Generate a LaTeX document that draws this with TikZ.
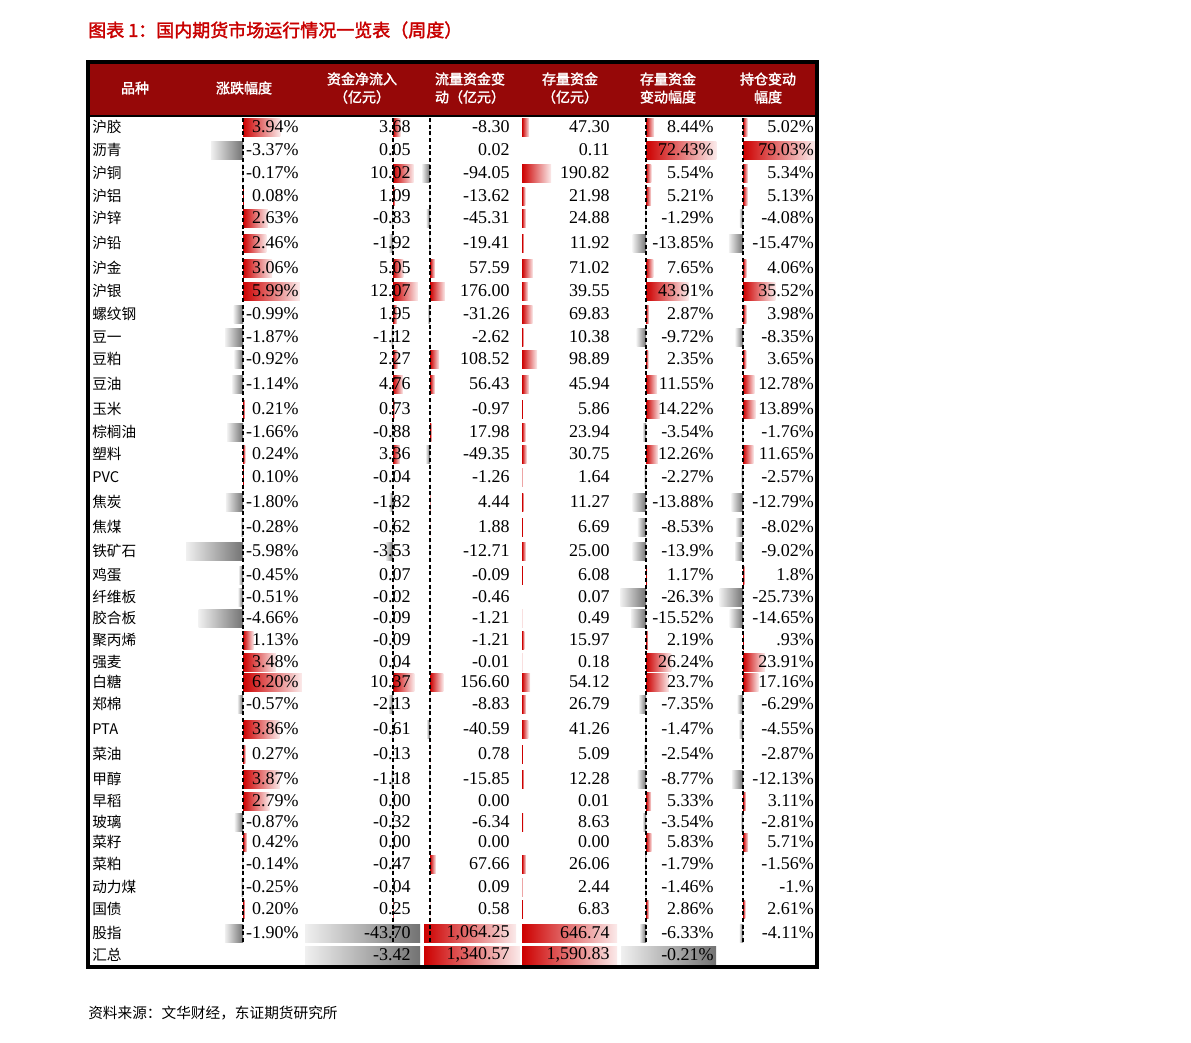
\documentclass[tikz,border=0pt]{standalone}
\usepackage{fontspec}
\setmainfont{Liberation Serif}
\newfontfamily\cjk{Noto Sans CJK SC}
\newfontfamily\cjkb[FakeBold=2]{Noto Sans CJK SC}
\definecolor{hdr}{RGB}{150,8,8}
\definecolor{bred}{RGB}{205,0,0}
\definecolor{ttl}{RGB}{200,0,0}
\tikzset{
 num/.style={anchor=east,inner sep=0pt,font=\fontsize{13.5}{14}\selectfont},
 nm/.style={anchor=west,inner sep=0pt,font=\cjk\fontsize{11}{12}\selectfont},
 hd/.style={align=center,text=white,inner sep=0pt,font=\cjkb\fontsize{10.5}{13.5}\selectfont},
 axisline/.style={black,line width=1.3pt,dash pattern=on 3pt off 2pt},
 posbar/.style={left color=bred,right color=bred!8},
 negbar/.style={left color=black!6,right color=black!55},
}
\newcommand\bb[4]{%
 \pgfmathsetmacro\LL{#2*(#3)}%
 \ifdim\LL pt>0pt \shade[posbar] (#1,#4-9) rectangle ({#1+\LL},#4+9);\fi
 \ifdim\LL pt<0pt \shade[negbar] ({#1+\LL},#4-9) rectangle (#1,#4+9);\fi}
\newcommand\R[8]{%
 \bb{243}{9.5}{#3}{#1}\bb{393}{2.05}{#4}{#1}\bb{430}{0.085}{#5}{#1}%
 \bb{522}{0.152}{#6}{#1}\bb{646}{0.97}{#7}{#1}\bb{743}{0.91}{#8}{#1}%
 \node[nm] (n#1) at (92,#1) {#2};
 \node[num] (a#1) at (299,#1) {#3\%};
 \node[num] (b#1) at (411,#1) {#4};
 \node[num] (c#1) at (510,#1) {#5};
 \node[num] (d#1) at (610,#1) {#6};
 \node[num] (e#1) at (714,#1) {#7\%};
 \node[num] (f#1) at (814,#1) {#8\%};}
\begin{document}
\begin{tikzpicture}[x=0.75pt,y=-0.75pt]
\useasboundingbox (0,0) rectangle (1191,1042);
\node[anchor=west,inner sep=0pt,text=ttl,font=\cjkb\fontsize{13.5}{14}\selectfont] (title) at (88,30) {图表 1：国内期货市场运行情况一览表（周度）};
\node[anchor=west,inner sep=0pt,font=\cjk\fontsize{11}{12}\selectfont] (src) at (88,1013) {资料来源：文华财经，东证期货研究所};
% header
\fill[hdr] (86,60) rectangle (818,116);
\node[hd] (h1) at (135,88) {品种};
\node[hd] (h2) at (244,88) {涨跌幅度};
\node[hd] (h3) at (362,88) {资金净流入\\（亿元）};
\node[hd] (h4) at (470,88) {流量资金变\\动（亿元）};
\node[hd] (h5) at (570,88) {存量资金\\（亿元）};
\node[hd] (h6) at (668,88) {存量资金\\变动幅度};
\node[hd] (h7) at (768,88) {持仓变动\\幅度};
\R{127}{沪胶}{3.94}{3.68}{-8.30}{47.30}{8.44}{5.02}
\R{150}{沥青}{-3.37}{0.05}{0.02}{0.11}{72.43}{79.03}
\R{173}{沪铜}{-0.17}{10.02}{-94.05}{190.82}{5.54}{5.34}
\R{196}{沪铝}{0.08}{1.09}{-13.62}{21.98}{5.21}{5.13}
\R{218}{沪锌}{2.63}{-0.83}{-45.31}{24.88}{-1.29}{-4.08}
\R{243}{沪铅}{2.46}{-1.92}{-19.41}{11.92}{-13.85}{-15.47}
\R{268}{沪金}{3.06}{5.05}{57.59}{71.02}{7.65}{4.06}
\R{291}{沪银}{5.99}{12.07}{176.00}{39.55}{43.91}{35.52}
\R{314}{螺纹钢}{-0.99}{1.95}{-31.26}{69.83}{2.87}{3.98}
\R{337}{豆一}{-1.87}{-1.12}{-2.62}{10.38}{-9.72}{-8.35}
\R{359}{豆粕}{-0.92}{2.27}{108.52}{98.89}{2.35}{3.65}
\R{384}{豆油}{-1.14}{4.76}{56.43}{45.94}{11.55}{12.78}
\R{409}{玉米}{0.21}{0.73}{-0.97}{5.86}{14.22}{13.89}
\R{432}{棕榈油}{-1.66}{-0.88}{17.98}{23.94}{-3.54}{-1.76}
\R{454}{塑料}{0.24}{3.36}{-49.35}{30.75}{12.26}{11.65}
\R{477}{PVC}{0.10}{-0.04}{-1.26}{1.64}{-2.27}{-2.57}
\R{502}{焦炭}{-1.80}{-1.82}{4.44}{11.27}{-13.88}{-12.79}
\R{527}{焦煤}{-0.28}{-0.62}{1.88}{6.69}{-8.53}{-8.02}
\R{551}{铁矿石}{-5.98}{-3.53}{-12.71}{25.00}{-13.9}{-9.02}
\R{575}{鸡蛋}{-0.45}{0.07}{-0.09}{6.08}{1.17}{1.8}
\R{597}{纤维板}{-0.51}{-0.02}{-0.46}{0.07}{-26.3}{-25.73}
\R{618}{胶合板}{-4.66}{-0.09}{-1.21}{0.49}{-15.52}{-14.65}
\R{640}{聚丙烯}{1.13}{-0.09}{-1.21}{15.97}{2.19}{.93}
\R{662}{强麦}{3.48}{0.04}{-0.01}{0.18}{26.24}{23.91}
\R{682}{白糖}{6.20}{10.37}{156.60}{54.12}{23.7}{17.16}
\R{704}{郑棉}{-0.57}{-2.13}{-8.83}{26.79}{-7.35}{-6.29}
\R{729}{PTA}{3.86}{-0.61}{-40.59}{41.26}{-1.47}{-4.55}
\R{754}{菜油}{0.27}{-0.13}{0.78}{5.09}{-2.54}{-2.87}
\R{779}{甲醇}{3.87}{-1.18}{-15.85}{12.28}{-8.77}{-12.13}
\R{801}{早稻}{2.79}{0.00}{0.00}{0.01}{5.33}{3.11}
\R{822}{玻璃}{-0.87}{-0.32}{-6.34}{8.63}{-3.54}{-2.81}
\R{842}{菜籽}{0.42}{0.00}{0.00}{0.00}{5.83}{5.71}
\R{864}{菜粕}{-0.14}{-0.47}{67.66}{26.06}{-1.79}{-1.56}
\R{887}{动力煤}{-0.25}{-0.04}{0.09}{2.44}{-1.46}{-1.}
\R{909}{国债}{0.20}{0.25}{0.58}{6.83}{2.86}{2.61}
% 股指
\bb{243}{9.5}{-1.90}{933}\bb{646}{0.97}{-6.33}{933}\bb{743}{0.91}{-4.11}{933}
\shade[negbar] (305,924) rectangle (420,942);
\shade[posbar] (424,924) rectangle (516,942);
\shade[posbar] (522,924) rectangle (617,942);
\node[nm] (n933) at (92,933) {股指};
\node[num] (a933) at (299,933) {-1.90\%};
\node[num] (b933) at (411,933) {-43.70};
\node[num] (c933) at (510,933) {1,064.25};
\node[num] (d933) at (610,933) {646.74};
\node[num] (e933) at (714,933) {-6.33\%};
\node[num] (f933) at (814,933) {-4.11\%};
% 汇总
\shade[negbar] (305,946) rectangle (420,964);
\shade[posbar] (424,946) rectangle (520,964);
\shade[posbar] (522,946) rectangle (617,964);
\shade[negbar] (621,946) rectangle (716,964);
\node[nm] (n955) at (92,955) {汇总};
\node[num] (b955) at (411,955) {-3.42};
\node[num] (c955) at (510,955) {1,340.57};
\node[num] (d955) at (610,955) {1,590.83};
\node[num] (e955) at (714,955) {-0.21\%};
% axes
\foreach \x in {243,393,430,646,743} \draw[axisline] (\x,118) -- (\x,944);
% frame
\draw[black,line width=2.2pt] (88,116) -- (816,116);
\draw[black,line width=3pt] (87.5,61.5) rectangle (816.5,966.5);
\end{tikzpicture}
\end{document}
